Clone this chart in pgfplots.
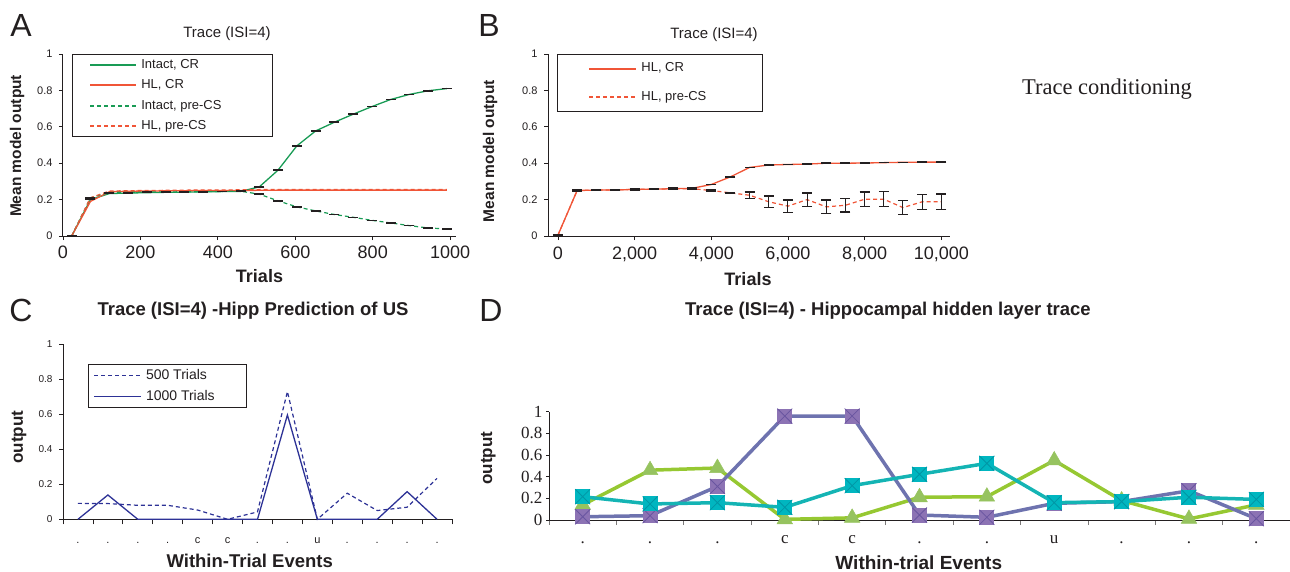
\documentclass[border=0pt]{standalone}
\usepackage{pgfplots}
\pgfplotsset{compat=1.18}
\usepackage{fontspec}
\setmainfont{Liberation Sans}
\newfontfamily\serif{Liberation Serif}
\newcommand\fs[1]{\fontsize{#1}{#1}\selectfont}
\definecolor{greenA}{RGB}{25,155,85}
\definecolor{redA}{RGB}{240,85,55}
\definecolor{blueC}{RGB}{45,50,150}
\definecolor{purpL}{RGB}{110,115,175}
\definecolor{purpF}{RGB}{140,115,180}
\definecolor{purpX}{RGB}{105,85,160}
\definecolor{cyanL}{RGB}{20,180,180}
\definecolor{cyanF}{RGB}{0,182,192}
\definecolor{cyanX}{RGB}{0,150,165}
\definecolor{grnL}{RGB}{150,200,50}
\definecolor{grnF}{RGB}{150,195,95}
\definecolor{txt}{RGB}{35,31,32}
\pgfdeclareplotmark{sqx}{%
 \pgfpathrectangle{\pgfqpoint{-\pgfplotmarksize}{-\pgfplotmarksize}}{\pgfqpoint{2\pgfplotmarksize}{2\pgfplotmarksize}}%
 \pgfusepathqfill
 \pgfpathmoveto{\pgfqpoint{-\pgfplotmarksize}{-\pgfplotmarksize}}%
 \pgfpathlineto{\pgfqpoint{\pgfplotmarksize}{\pgfplotmarksize}}%
 \pgfpathmoveto{\pgfqpoint{-\pgfplotmarksize}{\pgfplotmarksize}}%
 \pgfpathlineto{\pgfqpoint{\pgfplotmarksize}{-\pgfplotmarksize}}%
 \pgfusepathqstroke
}
\pgfplotsset{
 base/.style={scale only axis, anchor=south west, axis x line*=bottom, axis y line*=left,
  axis line style={-, line width=1pt, txt}, tick align=outside, major tick length=4pt,
  tick style={txt, line width=0.8pt}, clip=false, scaled ticks=false,
  /pgf/number format/assume math mode=true,
  ymin=0, ymax=1, ytick={0,0.2,0.4,0.6,0.8,1}, yticklabels={0,0.2,0.4,0.6,0.8,1},
  ticklabel style={text=txt}, label style={text=txt},
  legend cell align=left},
}
\begin{document}
\begin{tikzpicture}
\useasboundingbox (0,0) rectangle (1290pt,-572pt);
% ---------------- Panel A ----------------
\begin{axis}[base, at={(63pt,-236pt)}, width=393pt, height=182pt,
 xmin=0, xmax=1015, xtick={0,200,400,600,800,1000}, xticklabels={0,200,400,600,800,1000},
 xticklabel style={font=\fs{18}, anchor=base, yshift=-18pt},
 yticklabel style={font=\fs{11}, xshift=-3pt},
 xlabel={\bfseries Trials}, xlabel style={font=\fs{18}, at={(axis description cs:0.5,-0.22)}, anchor=center},
 ylabel={\bfseries Mean model output}, ylabel style={font=\fs{15.5}, at={(axis description cs:-0.117,0.495)}, anchor=center},
 legend style={at={(0.023,1)}, anchor=north west, draw=txt, line width=1pt, fill=white,
   inner xsep=17pt, inner ysep=4pt, row sep=8pt, column sep=4pt, font=\fs{13},
   nodes={inner sep=0pt, text height=9.5pt, text depth=3pt, text=txt}},
 legend image code/.code={\draw[#1] (0pt,0pt) -- (46pt,0pt);},
]
\addlegendimage{greenA, line width=1.8pt}
\addlegendentry{Intact, CR}
\addlegendimage{redA, line width=1.8pt}
\addlegendentry{HL, CR}
\addlegendimage{greenA, line width=1.6pt, dash pattern=on 4pt off 3pt}
\addlegendentry{Intact, pre-CS\hspace*{34pt}}
\addlegendimage{redA, line width=1.6pt, dash pattern=on 4pt off 3pt}
\addlegendentry{HL, pre-CS}
\addplot[forget plot, greenA, line width=1.3pt, mark=-, mark size=5pt, mark options={txt, solid, line width=1.5pt}] coordinates {
(22.5,0) (70.95,0.20) (119.4,0.233) (167.85,0.236) (216.3,0.238) (264.75,0.240) (313.2,0.241)
(361.65,0.243) (410.1,0.244) (458.55,0.245) (507,0.27) (555.45,0.362) (603.9,0.495) (652.35,0.577)
(700.8,0.625) (749.25,0.669) (797.7,0.711) (846.15,0.750) (894.6,0.778) (943.05,0.798) (991.5,0.810)};
\addplot[forget plot, redA, line width=1.3pt] coordinates {
(22.5,0) (70.95,0.19) (119.4,0.243) (167.85,0.246) (216.3,0.247) (264.75,0.248) (313.2,0.249)
(361.65,0.250) (410.1,0.250) (458.55,0.250) (507,0.251) (555.45,0.252) (603.9,0.252) (652.35,0.252)
(700.8,0.252) (749.25,0.252) (797.7,0.252) (846.15,0.252) (894.6,0.252) (943.05,0.252) (991.5,0.252)};
\addplot[forget plot, greenA, line width=1.2pt, dash pattern=on 4pt off 3pt, mark=-, mark size=5pt, mark options={txt, solid, line width=1.5pt}] coordinates {
(22.5,0) (70.95,0.21) (119.4,0.240) (167.85,0.240) (216.3,0.241) (264.75,0.242) (313.2,0.243)
(361.65,0.244) (410.1,0.245) (458.55,0.246) (507,0.230) (555.45,0.193) (603.9,0.160) (652.35,0.138)
(700.8,0.118) (749.25,0.103) (797.7,0.086) (846.15,0.072) (894.6,0.057) (943.05,0.044) (991.5,0.039)};
\addplot[forget plot, redA, line width=1.2pt, dash pattern=on 4pt off 3pt] coordinates {
(22.5,0) (70.95,0.21) (119.4,0.247) (167.85,0.249) (216.3,0.250) (264.75,0.251) (313.2,0.252)
(361.65,0.253) (410.1,0.253) (458.55,0.254) (507,0.255) (555.45,0.255) (603.9,0.255) (652.35,0.255)
(700.8,0.255) (749.25,0.255) (797.7,0.255) (846.15,0.255) (894.6,0.255) (943.05,0.255) (991.5,0.255)};
\end{axis}
% ---------------- Panel B ----------------
\begin{axis}[base, at={(548pt,-236pt)}, width=402pt, height=182pt,
 xmin=-260, xmax=10227, xtick={0,2000,4000,6000,8000,10000}, xticklabels={0,{2,000},{4,000},{6,000},{8,000},{10,000}},
 xticklabel style={font=\fs{18}, anchor=base, yshift=-19pt},
 yticklabel style={font=\fs{11}, xshift=-3pt},
 xlabel={\bfseries Trials}, xlabel style={font=\fs{18}, at={(axis description cs:0.4975,-0.236)}, anchor=center},
 ylabel={\bfseries Mean model output}, ylabel style={font=\fs{15.5}, at={(axis description cs:-0.144,0.467)}, anchor=center},
 legend style={at={(0.0224,1)}, anchor=north west, draw=txt, line width=1pt, fill=white,
   inner xsep=31pt, inner ysep=8pt, row sep=16pt, column sep=4pt, font=\fs{13},
   nodes={inner sep=0pt, text height=9.5pt, text depth=3pt, text=txt}},
 legend image code/.code={\draw[#1] (0pt,0pt) -- (47pt,0pt);},
]
\addlegendimage{redA, line width=1.9pt}
\addlegendentry{HL, CR}
\addlegendimage{redA, line width=1.8pt, dash pattern=on 4pt off 3pt}
\addlegendentry{HL, pre-CS\hspace*{25pt}}
\addplot[forget plot, redA, line width=1.3pt, mark=-, mark size=5pt, mark options={txt, solid, line width=1.5pt}] coordinates {
(0,0.005) (500,0.25) (1000,0.252) (1500,0.253) (2000,0.256) (2500,0.257) (3000,0.26) (3500,0.262)
(4000,0.283) (4500,0.325) (5000,0.377) (5500,0.39) (6000,0.393) (6500,0.395) (7000,0.40) (7500,0.40)
(8000,0.401) (8500,0.403) (9000,0.405) (9500,0.406) (10000,0.406)};
\addplot[forget plot, redA, line width=1.2pt, dash pattern=on 4pt off 3pt,
 error bars/.cd, y dir=both, y explicit, error mark=|,
 error bar style={txt, solid, line width=1pt},
 error mark options={txt, solid, line width=1.3pt, mark size=5pt}] coordinates {
(0,0.005) +- (0,0.003) (500,0.25) +- (0,0.003) (1000,0.252) +- (0,0.003) (1500,0.253) +- (0,0.003)
(2000,0.256) +- (0,0.003) (2500,0.257) +- (0,0.003) (3000,0.26) +- (0,0.003) (3500,0.260) +- (0,0.003)
(4000,0.250) +- (0,0.003) (4500,0.237) +- (0,0.003) (5000,0.224) +- (0,0.017) (5500,0.188) +- (0,0.031)
(6000,0.164) +- (0,0.033) (6500,0.20) +- (0,0.037) (7000,0.16) +- (0,0.037) (7500,0.169) +- (0,0.037)
(8000,0.202) +- (0,0.04) (8500,0.202) +- (0,0.041) (9000,0.156) +- (0,0.039) (9500,0.188) +- (0,0.041)
(10000,0.188) +- (0,0.043)};
\end{axis}
% ---------------- Panel C ----------------
\begin{axis}[base, at={(63pt,-519.3pt)}, width=389pt, height=175pt,
 xmin=-0.5, xmax=12.5, xtick={0,...,12}, xticklabels={.,.,.,.,c,c,.,.,u,.,.,.,.},
 major x tick style={draw=none}, minor xtick={-0.5,0.5,...,12.5}, minor tick length=5pt,
 minor x tick style={txt, line width=0.8pt},
 xticklabel style={font=\fs{11}, anchor=base, yshift=-20pt},
 yticklabel style={font=\fs{10}, xshift=-3pt},
 xlabel={\bfseries Within-Trial Events}, xlabel style={font=\fs{18.5}, at={(axis description cs:0.48,-0.238)}, anchor=center},
 ylabel={\bfseries output}, ylabel style={font=\fs{17}, at={(axis description cs:-0.113,0.47)}, anchor=center},
 legend style={at={(0.0643,0.8897)}, anchor=north west, draw=txt, line width=1pt, fill=white,
   inner xsep=5pt, inner ysep=4.5pt, row sep=7.5pt, column sep=4pt, font=\fs{14},
   nodes={inner sep=0pt, text height=10.5pt, text depth=3pt, text=txt}},
 legend image code/.code={\draw[#1] (0pt,0pt) -- (47pt,0pt);},
]
\addlegendimage{blueC, line width=1.4pt, dash pattern=on 4pt off 3pt}
\addlegendentry{500 Trials}
\addlegendimage{blueC, line width=1.5pt}
\addlegendentry{1000 Trials\hspace*{27pt}}
\addplot[forget plot, blueC, line width=1.2pt, dash pattern=on 4pt off 3pt] coordinates {
(0,0.091) (1,0.09) (2,0.08) (3,0.08) (4,0.053) (5,0.0) (6,0.042) (7,0.73) (8,0.0) (9,0.149) (10,0.05) (11,0.069) (12,0.234)};
\addplot[forget plot, blueC, line width=1.3pt] coordinates {
(0,0) (1,0.139) (2,0) (3,0) (4,0) (5,0) (6,0) (7,0.596) (8,0) (9,0) (10,0) (11,0.158) (12,0)};
\end{axis}
% ---------------- Panel D ----------------
\begin{axis}[base, at={(549pt,-520pt)}, width=741pt, height=108.3pt,
 xmin=-0.5, xmax=10.5, xtick={0,...,10}, xticklabels={.,.,.,c,c,.,.,u,.,.,.},
 major x tick style={draw=none}, minor xtick={-0.5,0.5,...,10.5}, minor tick length=5pt,
 minor x tick style={txt!60, line width=0.8pt},
 ytick style={txt, line width=0.8pt}, major tick length=3pt,
 xticklabel style={font=\serif\fs{17}, anchor=base, yshift=-20pt},
 yticklabel style={font=\serif\fs{17}},
 xlabel={\bfseries Within-trial Events}, xlabel style={font=\fs{19}, at={(axis description cs:0.499,-0.39)}, anchor=center},
 ylabel={\bfseries output}, ylabel style={font=\fs{17}, at={(axis description cs:-0.082,0.57)}, anchor=center},
]
\addplot[grnL, line width=3.5pt, mark=triangle*, mark size=9pt, mark options={solid, fill=grnF, draw=grnF, line width=0.5pt}] coordinates {
(0,0.14) (1,0.46) (2,0.48) (3,0.006) (4,0.02) (5,0.21) (6,0.215) (7,0.55) (8,0.18) (9,0.01) (10,0.14)};
\addplot[purpL, line width=3.5pt, mark=sqx, mark size=7.5pt, mark options={solid, fill=purpF, draw=purpX, line width=0.8pt}] coordinates {
(0,0.03) (1,0.04) (2,0.31) (3,0.96) (4,0.96) (5,0.046) (6,0.025) (7,0.154) (8,0.17) (9,0.27) (10,0.012)};
\addplot[cyanL, line width=3.5pt, mark=sqx, mark size=7.5pt, mark options={solid, fill=cyanF, draw=cyanX, line width=0.8pt}] coordinates {
(0,0.215) (1,0.148) (2,0.16) (3,0.117) (4,0.317) (5,0.422) (6,0.523) (7,0.16) (8,0.17) (9,0.21) (10,0.19)};
\end{axis}
% ---------------- Titles and letters ----------------
\node[font=\fs{32}, text=txt] at (21pt,-25pt) {A};
\node[font=\fs{32}, text=txt] at (489pt,-25pt) {B};
\node[font=\fs{32}, text=txt] at (21pt,-310pt) {C};
\node[font=\fs{32}, text=txt] at (491pt,-310pt) {D};
\node[font=\fs{15}, text=txt] at (227pt,-34pt) {Trace (ISI=4)};
\node[font=\fs{15}, text=txt] at (714pt,-35pt) {Trace (ISI=4)};
\node[font=\bfseries\fs{18.5}, text=txt] at (253pt,-311pt) {Trace (ISI=4) -Hipp Prediction of US};
\node[font=\bfseries\fs{18.5}, text=txt] at (888pt,-311pt) {Trace (ISI=4) - Hippocampal hidden layer trace};
\node[font=\serif\fs{22.5}, text=txt, anchor=base] at (1107pt,-95pt) {Trace conditioning};
\end{tikzpicture}
\end{document}
